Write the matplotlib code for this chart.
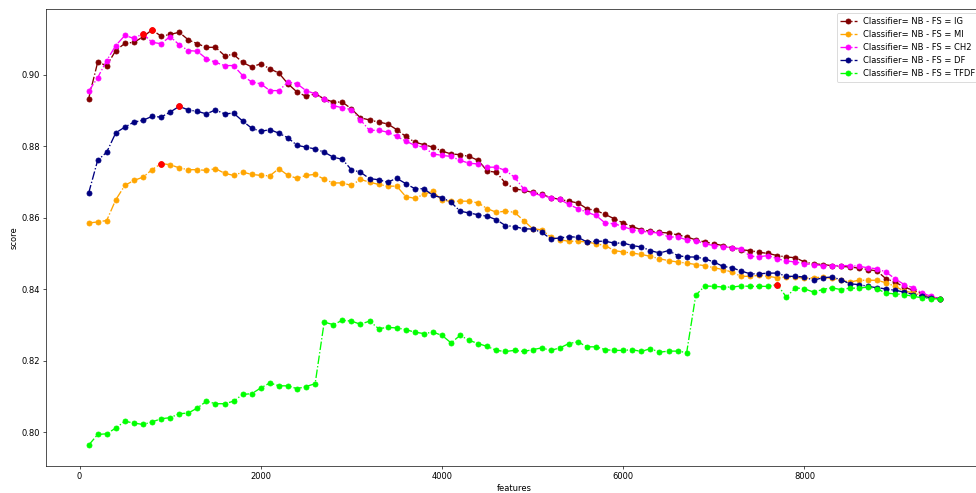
import matplotlib
matplotlib.use("Agg")
import matplotlib.pyplot as plt
import numpy as np

features = np.arange(100, 9600, 100)

ig = [0.8932, 0.9034, 0.9025, 0.9067, 0.9087, 0.9090, 0.9105, 0.9125, 0.9107, 0.9112,
      0.9118, 0.9097, 0.9086, 0.9076, 0.9076, 0.9053, 0.9056, 0.9034, 0.9021, 0.9030,
      0.9016, 0.9004, 0.8974, 0.8951, 0.8939, 0.8946, 0.8932, 0.8923, 0.8923, 0.8904,
      0.8879, 0.8873, 0.8867, 0.8862, 0.8846, 0.8827, 0.8811, 0.8804, 0.8797, 0.8786,
      0.8778, 0.8776, 0.8771, 0.8760, 0.8730, 0.8727, 0.8696, 0.8681, 0.8676, 0.8671,
      0.8665, 0.8656, 0.8651, 0.8646, 0.8641, 0.8625, 0.8620, 0.8609, 0.8597, 0.8585,
      0.8575, 0.8566, 0.8562, 0.8559, 0.8557, 0.8552, 0.8546, 0.8538, 0.8532, 0.8527,
      0.8522, 0.8516, 0.8510, 0.8508, 0.8503, 0.8500, 0.8494, 0.8490, 0.8488, 0.8476,
      0.8471, 0.8469, 0.8466, 0.8464, 0.8462, 0.8459, 0.8455, 0.8451, 0.8429, 0.8420,
      0.8406, 0.8397, 0.8387, 0.8378, 0.8373]

mi = [0.8585, 0.8588, 0.8592, 0.8650, 0.8690, 0.8704, 0.8713, 0.8734, 0.8751, 0.8748,
      0.8739, 0.8734, 0.8734, 0.8732, 0.8737, 0.8724, 0.8718, 0.8727, 0.8721, 0.8718,
      0.8717, 0.8737, 0.8718, 0.8710, 0.8718, 0.8721, 0.8707, 0.8697, 0.8697, 0.8690,
      0.8707, 0.8699, 0.8693, 0.8688, 0.8688, 0.8659, 0.8654, 0.8665, 0.8674, 0.8648,
      0.8646, 0.8646, 0.8646, 0.8641, 0.8625, 0.8615, 0.8618, 0.8615, 0.8592, 0.8569,
      0.8566, 0.8546, 0.8538, 0.8534, 0.8534, 0.8532, 0.8527, 0.8522, 0.8508, 0.8504,
      0.8501, 0.8497, 0.8492, 0.8485, 0.8480, 0.8476, 0.8473, 0.8469, 0.8466, 0.8460,
      0.8455, 0.8448, 0.8436, 0.8436, 0.8439, 0.8436, 0.8432, 0.8434, 0.8434, 0.8430,
      0.8432, 0.8434, 0.8430, 0.8425, 0.8420, 0.8425, 0.8425, 0.8425, 0.8418, 0.8408,
      0.8395, 0.8390, 0.8382, 0.8378, 0.8373]

ch2 = [0.8953, 0.8991, 0.9039, 0.9081, 0.9109, 0.9101, 0.9114, 0.9090, 0.9086, 0.9106,
       0.9083, 0.9067, 0.9065, 0.9044, 0.9034, 0.9025, 0.9025, 0.8997, 0.8979, 0.8974,
       0.8955, 0.8955, 0.8979, 0.8974, 0.8955, 0.8946, 0.8932, 0.8913, 0.8907, 0.8902,
       0.8873, 0.8844, 0.8844, 0.8839, 0.8827, 0.8814, 0.8802, 0.8797, 0.8778, 0.8774,
       0.8771, 0.8760, 0.8752, 0.8750, 0.8741, 0.8741, 0.8732, 0.8713, 0.8681, 0.8668,
       0.8662, 0.8656, 0.8651, 0.8637, 0.8625, 0.8615, 0.8606, 0.8585, 0.8583, 0.8575,
       0.8566, 0.8562, 0.8559, 0.8557, 0.8546, 0.8546, 0.8538, 0.8536, 0.8527, 0.8522,
       0.8519, 0.8516, 0.8513, 0.8492, 0.8491, 0.8494, 0.8485, 0.8479, 0.8476, 0.8471,
       0.8469, 0.8466, 0.8466, 0.8466, 0.8466, 0.8464, 0.8460, 0.8457, 0.8448, 0.8429,
       0.8413, 0.8404, 0.8389, 0.8380, 0.8373]

df = [0.8668, 0.8760, 0.8783, 0.8837, 0.8853, 0.8867, 0.8872, 0.8883, 0.8881, 0.8895,
      0.8911, 0.8901, 0.8897, 0.8890, 0.8901, 0.8890, 0.8892, 0.8870, 0.8850, 0.8841,
      0.8846, 0.8836, 0.8823, 0.8802, 0.8797, 0.8792, 0.8783, 0.8769, 0.8763, 0.8734,
      0.8727, 0.8709, 0.8706, 0.8699, 0.8710, 0.8695, 0.8681, 0.8681, 0.8662, 0.8656,
      0.8643, 0.8618, 0.8613, 0.8608, 0.8604, 0.8594, 0.8578, 0.8575, 0.8569, 0.8568,
      0.8559, 0.8541, 0.8543, 0.8547, 0.8545, 0.8532, 0.8534, 0.8534, 0.8529, 0.8529,
      0.8522, 0.8518, 0.8508, 0.8501, 0.8508, 0.8494, 0.8490, 0.8490, 0.8485, 0.8476,
      0.8464, 0.8460, 0.8451, 0.8443, 0.8443, 0.8445, 0.8445, 0.8436, 0.8436, 0.8434,
      0.8425, 0.8432, 0.8434, 0.8427, 0.8415, 0.8413, 0.8408, 0.8404, 0.8401, 0.8397,
      0.8392, 0.8385, 0.8380, 0.8376, 0.8373]

tfdf = [0.7964, 0.7994, 0.7996, 0.8012, 0.8031, 0.8026, 0.8022, 0.8029, 0.8038, 0.8041,
        0.8052, 0.8054, 0.8068, 0.8087, 0.8080, 0.8080, 0.8087, 0.8106, 0.8108, 0.8124,
        0.8138, 0.8130, 0.8130, 0.8122, 0.8128, 0.8136, 0.8308, 0.8301, 0.8313, 0.8311,
        0.8302, 0.8311, 0.8290, 0.8293, 0.8292, 0.8287, 0.8280, 0.8276, 0.8280, 0.8271,
        0.8250, 0.8271, 0.8257, 0.8248, 0.8240, 0.8229, 0.8226, 0.8229, 0.8226, 0.8231,
        0.8236, 0.8229, 0.8236, 0.8248, 0.8253, 0.8239, 0.8239, 0.8231, 0.8229, 0.8229,
        0.8231, 0.8226, 0.8234, 0.8224, 0.8227, 0.8227, 0.8223, 0.8383, 0.8409, 0.8408,
        0.8406, 0.8406, 0.8409, 0.8408, 0.8408, 0.8408, 0.8413, 0.8378, 0.8404, 0.8401,
        0.8392, 0.8399, 0.8404, 0.8399, 0.8403, 0.8403, 0.8406, 0.8401, 0.8389, 0.8387,
        0.8385, 0.8380, 0.8376, 0.8373, 0.8373]

series = [("IG", ig, "maroon"), ("MI", mi, "orange"), ("CH2", ch2, "magenta"),
          ("DF", df, "navy"), ("TFDF", tfdf, "lime")]

fig = plt.figure(figsize=(976 / 60, 493 / 60), dpi=60)
ax = fig.add_axes([46 / 976, 27 / 493, 937 / 976, 457 / 493])

for name, scores, col in series:
    ax.plot(features, scores, linestyle='-.', marker='o', color=col, linewidth=1.6,
            markersize=6, label='Classifier= NB - FS = ' + name)
    best = int(np.argmax(scores))
    ax.plot(features[best], scores[best], 'o', color='red', markersize=7)

ax.set_xlabel('features')
ax.set_ylabel('score')
ax.legend(loc='upper right')

fig.savefig('out.png', dpi=60)
